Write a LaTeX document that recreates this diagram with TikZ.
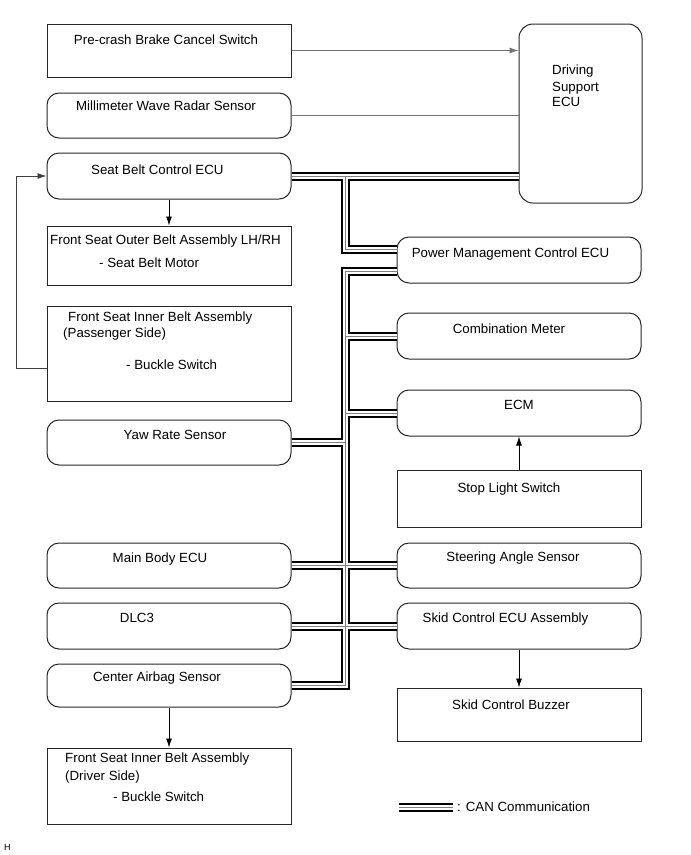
\documentclass[tikz,border=0pt]{standalone}
\usepackage{fontspec}
\setmainfont{Liberation Sans}
\usetikzlibrary{arrows.meta,calc}
\begin{document}
\begin{tikzpicture}[x=1pt,y=-1pt,
  box/.style={draw=black!85, line width=1pt, minimum width=244pt, inner sep=0pt},
  rbox/.style={box, rounded corners=12pt},
  txt/.style={anchor=base, inner sep=0pt, font=\fontsize{13.3}{16}\selectfont},
  ltxt/.style={txt, anchor=base west},
  arr/.style={line width=0.8pt, -{Latex[length=9pt,width=6pt]}},
  sig/.style={draw=black!55, line width=0.8pt},
  canout/.style={line width=9pt, black, line join=miter},
  canmid/.style={line width=5pt, white, line join=miter},
  canin/.style={line width=1pt, black!50, line join=miter},
]
\useasboundingbox (0,0) rectangle (691,855);

% left column
\node[box, minimum height=53pt] (pre) at (169,50.5) {};
\node[rbox, minimum height=45pt] (mmw) at (169,115.5) {};
\node[rbox, minimum height=46pt] (sbecu) at (169,176) {};
\node[box, minimum height=59pt] (outer) at (169,255.5) {};
\node[box, minimum height=95pt] (inner) at (169,353.5) {};
\node[rbox, minimum height=45pt] (yaw) at (169,442.5) {};
\node[rbox, minimum height=45pt] (mbecu) at (169,565.5) {};
\node[rbox, minimum height=46pt] (dlc) at (169,626) {};
\node[rbox, minimum height=43pt] (cas) at (169,685.5) {};
\node[box, minimum height=76pt] (driver) at (169,786) {};

% right column
\node[rbox, rounded corners=14pt, minimum width=123pt, minimum height=179pt] (dsecu) at (580.5,113.5) {};
\node[rbox, minimum height=46pt] (pm) at (519,260) {};
\node[rbox, minimum height=46pt] (comb) at (519,336) {};
\node[rbox, minimum height=46pt] (ecm) at (519,413) {};
\node[box, minimum height=57pt] (stop) at (519,498.5) {};
\node[rbox, minimum height=45pt] (sas) at (519,565.5) {};
\node[rbox, minimum height=46pt] (skid) at (519,626) {};
\node[box, minimum height=53pt] (buzz) at (519,714.5) {};

% texts
\node[txt] (tpre) at (166,44.5) {Pre-crash Brake Cancel Switch};
\node[txt] (tmmw) at (166,110.5) {Millimeter Wave Radar Sensor};
\node[ltxt] (tsb) at (91,174.5) {Seat Belt Control ECU};
\node[ltxt] (to1) at (50,244.5) {Front Seat Outer Belt Assembly LH/RH};
\node[ltxt] (to2) at (99,267) {- Seat Belt Motor};
\node[ltxt] (ti1) at (68,321) {Front Seat Inner Belt Assembly};
\node[ltxt] (ti2) at (63,337) {(Passenger Side)};
\node[ltxt] (ti3) at (126,369.5) {- Buckle Switch};
\node[txt] (tyaw) at (175,439) {Yaw Rate Sensor};
\node[txt] (tmb) at (160,562) {Main Body ECU};
\node[txt] (tdlc) at (137,622.5) {DLC3};
\node[txt] (tcas) at (157,681) {Center Airbag Sensor};
\node[ltxt] (td1) at (65,762.5) {Front Seat Inner Belt Assembly};
\node[ltxt] (td2) at (65,780) {(Driver Side)};
\node[ltxt] (td3) at (113,801) {- Buckle Switch};
\node[ltxt] (tds1) at (552,74.5) {Driving};
\node[ltxt] (tds2) at (552,91) {Support};
\node[ltxt] (tds3) at (552,106.5) {ECU};
\node[txt] (tpm) at (510.5,257.5) {Power Management Control ECU};
\node[txt] (tcomb) at (509,333.5) {Combination Meter};
\node[txt] (tecm) at (519,409.5) {ECM};
\node[txt] (tstop) at (509,492.5) {Stop Light Switch};
\node[txt] (tsas) at (513,561.5) {Steering Angle Sensor};
\node[txt] (tskid) at (505.5,622.5) {Skid Control ECU Assembly};
\node[txt] (tbuzz) at (511,709.5) {Skid Control Buzzer};
\node[anchor=base west, inner sep=0pt, font=\fontsize{9}{10}\selectfont] (h) at (4,850) {H};

% signal lines
\draw[sig, arr] (pre.east) -- (pre.east -| dsecu.west);
\draw[sig] (mmw.east) -- (mmw.east -| dsecu.west);
\draw[arr] (sbecu.south) -- (outer.north);
\coordinate (lp) at ([yshift=-14.5pt]inner.west);
\draw[arr, draw=black!75] (lp) -- ++(-30,0) |- (sbecu.west);
\draw[arr] (stop.north) -- (ecm.south);
\draw[arr] (skid.south) -- (buzz.north);
\draw[arr] (cas.south) -- (driver.north);

% CAN bus
\coordinate (j1) at (345,176);
\coordinate (pmA) at ([yshift=11pt]pm.west);
\coordinate (pmB) at ([yshift=-11pt]pm.west);
\coordinate (legA) at (399,807);
\coordinate (legB) at (453,807);
\foreach \s in {canout,canmid,canin}{
  \draw[\s] (sbecu.east) -- (sbecu.east -| dsecu.west);
  \draw[\s] (j1) |- (pmA);
  \draw[\s] (pmB) -| (j1 |- cas.east) -- (cas.east);
  \draw[\s] (j1 |- comb.west) -- (comb.west);
  \draw[\s] (j1 |- ecm.west) -- (ecm.west);
  \draw[\s] (yaw.east) -- (j1 |- yaw.east);
  \draw[\s] (mbecu.east) -- (sas.west);
  \draw[\s] (dlc.east) -- (skid.west);
  \draw[\s] (legA) -- (legB);
}
\node[ltxt] (tleg) at (457,811) {: CAN Communication};
\end{tikzpicture}
\end{document}
